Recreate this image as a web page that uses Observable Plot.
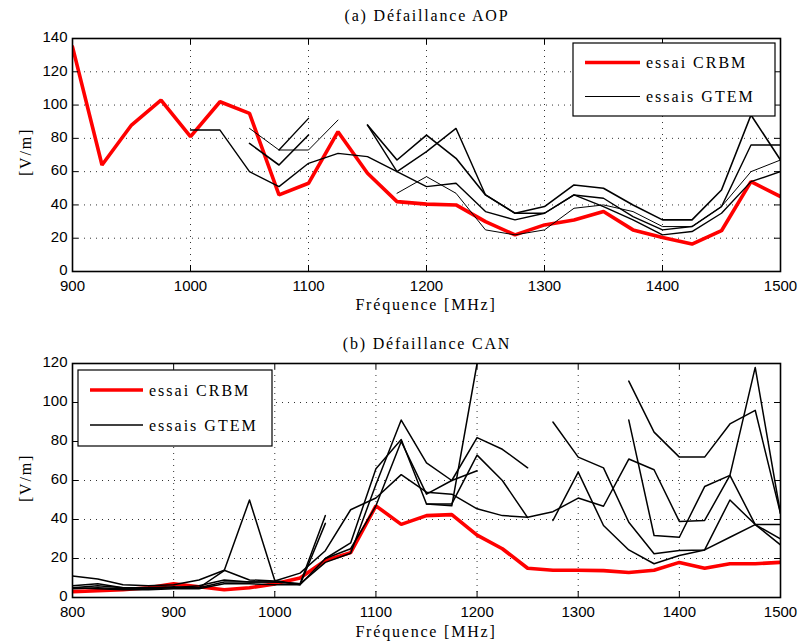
<!DOCTYPE html>
<html>
<head>
<meta charset="utf-8">
<script src="https://cdn.jsdelivr.net/npm/d3@7"></script>
<script src="https://cdn.jsdelivr.net/npm/@observablehq/plot@0.6"></script>
<style>
  body { margin: 0; background: #fff; }
  #wrap { position: relative; width: 800px; height: 644px; overflow: hidden; background: #fff; }
  .chart { position: absolute; left: 0; }
  #overlay { position: absolute; left: 0; top: 0; pointer-events: none; }
  .serif { font-family: "Liberation Serif", "DejaVu Serif", serif; font-size: 16px; fill: #000; }
</style>
</head>
<body>
<div id="wrap">
  <div id="top" class="chart" style="top:0px"></div>
  <div id="bottom" class="chart" style="top:330px"></div>
  <svg id="overlay" width="800" height="644">
    <text class="serif" x="427" y="21" text-anchor="middle" letter-spacing="1.8">(a) Défaillance AOP</text>
    <text class="serif" x="426" y="310" text-anchor="middle" letter-spacing="1.8">Fréquence [MHz]</text>
    <text class="serif" transform="translate(31,152) rotate(-90)" text-anchor="middle" letter-spacing="1.8">[V/m]</text>
    <text class="serif" x="427" y="349" text-anchor="middle" letter-spacing="1.8">(b) Défaillance CAN</text>
    <text class="serif" x="426" y="637" text-anchor="middle" letter-spacing="1.8">Fréquence [MHz]</text>
    <text class="serif" transform="translate(31,478) rotate(-90)" text-anchor="middle" letter-spacing="1.8">[V/m]</text>

    <rect x="573" y="43" width="202" height="73" fill="#fff" stroke="#000" stroke-width="1.2"></rect>
    <line x1="585" x2="640" y1="62.5" y2="62.5" stroke="#ff0000" stroke-width="3.5"></line>
    <text class="serif" x="646" y="68" letter-spacing="2">essai CRBM</text>
    <line x1="585" x2="640" y1="96.5" y2="96.5" stroke="#000" stroke-width="1"></line>
    <text class="serif" x="646" y="102" letter-spacing="2">essais GTEM</text>

    <rect x="78" y="370" width="194" height="76" fill="#fff" stroke="#000" stroke-width="1.2"></rect>
    <line x1="90" x2="143" y1="390" y2="390" stroke="#ff0000" stroke-width="3.5"></line>
    <text class="serif" x="149" y="395.5" letter-spacing="2">essai CRBM</text>
    <line x1="90" x2="143" y1="425" y2="425" stroke="#000" stroke-width="1.5"></line>
    <text class="serif" x="149" y="430.5" letter-spacing="2">essais GTEM</text>
  </svg>
</div>
<script>
// ---------- (a) Défaillance AOP ----------
const freqA = [900,925,950,975,1000,1025,1050,1075,1100,1125,1150,1175,1200,1225,1250,1275,1300,1325,1350,1375,1400,1425,1450,1475,1500];
const crbmA = [135,64,88,103,81,102,95,46,53,84,59,42,40.5,40,30,22,28,31,36,25,20.5,16.5,24.5,54,45];
const gtemA1 = [null,null,null,null,null,null,86,73,73,91,null,null,null,null,null,null,null,null,null,null,null,null,null,null,null];
const gtemA2 = [null,null,null,null,null,null,77,64,82,null,null,null,null,null,null,null,null,null,null,null,null,null,null,null,null];
const gtemA3 = [null,null,null,null,null,null,null,73,92,null,null,null,null,null,null,null,null,null,null,null,null,null,null,null,null];
const gtemA4 = [null,null,null,null,85,85,60,51,65,71,69,60,51,53,36,31,35,46,39,31,22,24,35,54,60];
const gtemA5 = [null,null,null,null,null,null,null,null,null,null,88,67,82,68,46,35,39,52,50,40,31,31,49,94,67];
const gtemA6 = [null,null,null,null,null,null,null,null,null,null,88,60,72,86,46,35,35,46,44,33,25,27,39,76,76];
const gtemA7 = [null,null,null,null,null,null,null,null,null,null,null,47,57,47,25,22,25,38,40,36,27,27,39,60,67];
const xTicksA = [900,1000,1100,1200,1300,1400,1500];
const yTicksA = [0,20,40,60,80,100,120,140];

// ---------- (b) Défaillance CAN ----------
const freqB = [800,825,850,875,900,925,950,975,1000,1025,1050,1075,1100,1125,1150,1175,1200,1225,1250,1275,1300,1325,1350,1375,1400,1425,1450,1475,1500];
const crbmB = [3,3.5,4,5,7,5.5,4,5,7,10,19,23,47,37.5,42,42.5,32,25,15,14,14,13.8,12.8,14,18,15,17.3,17.3,18];
const gtemB1 = [11,9.5,6.5,6,6.5,9,14,9,8.5,12.5,24,45,51,63,54,53,45.5,42,41.2,44,51,46.8,71,65.5,39,39.5,62.6,118,43];
const gtemB2 = [5,6,5,5,5.5,5,13.8,50,8.7,6.5,20,28,66,81,48,47,120,null,null,null,null,null,null,null,null,null,null,null,null];
const gtemB3 = [4.5,5,4.5,4.5,5,6,9,8,8,7,18,22.7,58,91,69,60,65,null,null,null,null,null,null,null,null,null,null,null,null];
const gtemB4 = [6,7,5,5,5,5,8,8,8,7,42,null,null,null,null,null,null,null,null,null,null,null,null,null,null,null,null,null,null];
const gtemB5 = [5,4.5,4,4,4.5,4.5,7,7,6.5,6.5,38,null,null,null,null,null,null,null,null,null,null,null,null,null,null,null,null,null,null];
const gtemB6 = [null,null,null,null,null,null,null,null,null,null,20,25,47,80,53,60,82,76,66.5,null,null,null,null,null,null,null,null,null,null];
const gtemB7 = [null,null,null,null,null,null,null,null,null,null,null,null,null,null,48,48,73,60,41,null,null,null,null,null,null,null,null,null,null];
const gtemB8 = [null,null,null,null,null,null,null,null,null,null,null,null,null,null,null,null,null,null,null,90,72,66.5,38.6,22.4,24.1,24.4,30.9,37.4,37.4];
const gtemB9 = [null,null,null,null,null,null,null,null,null,null,null,null,null,null,null,null,null,null,null,39.5,64.3,36.9,24.4,17.3,21.5,24.4,50,37.4,27];
const gtemB10 = [null,null,null,null,null,null,null,null,null,null,null,null,null,null,null,null,null,null,null,null,null,null,91,31.8,30.9,56.9,62.6,37.4,30];
const gtemB11 = [null,null,null,null,null,null,null,null,null,null,null,null,null,null,null,null,null,null,null,null,null,null,111,84.8,72,72,89,96,43];
const xTicksB = [800,900,1000,1100,1200,1300,1400,1500];
const yTicksB = [0,20,40,60,80,100,120];

function series(freq, vals) {
  return vals.map((v, i) => ({f: freq[i], v: v == null ? NaN : v}));
}

function makeChart(cfg) {
  const mL = 72, mR = 20;
  const pw = 800 - mL - mR;
  const ph = cfg.height - cfg.marginTop - cfg.marginBottom;
  const tick = 6;
  const fmt = d => String(d);
  const marks = [
    Plot.gridX(cfg.xTicks, {stroke: "#000", strokeOpacity: 0.8, strokeWidth: 1, strokeDasharray: "1,5"}),
    Plot.gridY(cfg.yTicks, {stroke: "#000", strokeOpacity: 0.8, strokeWidth: 1, strokeDasharray: "1,5"}),
    Plot.line(series(cfg.freq, cfg.crbm), {x: "f", y: "v", stroke: "#ff0000", strokeWidth: 3.6, clip: true, strokeLinejoin: "miter"}),
    ...cfg.gtem.map(s => Plot.line(series(cfg.freq, s.v), {x: "f", y: "v", stroke: "#000", strokeWidth: s.w, clip: true})),
    Plot.tickX(cfg.xTicks, {x: d => d, stroke: "#000", insetTop: ph - tick}),
    Plot.tickX(cfg.xTicks, {x: d => d, stroke: "#000", insetBottom: ph - tick}),
    Plot.tickY(cfg.yTicks, {y: d => d, stroke: "#000", insetRight: pw - tick}),
    Plot.tickY(cfg.yTicks, {y: d => d, stroke: "#000", insetLeft: pw - tick}),
    Plot.axisX(cfg.xTicks, {tickSize: 0, tickPadding: 9, label: null, fontSize: 15, tickFormat: fmt}),
    Plot.axisY(cfg.yTicks, {tickSize: 0, tickPadding: 5, label: null, fontSize: 15, tickFormat: fmt, dy: -1}),
    Plot.frame({stroke: "#000", strokeWidth: 1.6})
  ];
  return Plot.plot({
    width: 800,
    height: cfg.height,
    marginTop: cfg.marginTop,
    marginBottom: cfg.marginBottom,
    marginLeft: mL,
    marginRight: mR,
    x: {domain: cfg.xDomain, axis: null},
    y: {domain: cfg.yDomain, axis: null},
    style: {fontFamily: "'Liberation Sans', Arial, sans-serif", fontSize: "15px", color: "#000", background: "transparent"},
    marks
  });
}

document.getElementById("top").appendChild(makeChart({
  freq: freqA, crbm: crbmA,
  gtem: [
    {v: gtemA1, w: 1}, {v: gtemA2, w: 1.6}, {v: gtemA3, w: 1.4}, {v: gtemA4, w: 1.4},
    {v: gtemA5, w: 1.6}, {v: gtemA6, w: 1.4}, {v: gtemA7, w: 1}
  ],
  xTicks: xTicksA, yTicks: yTicksA, xDomain: [900, 1500], yDomain: [0, 140],
  height: 318, marginTop: 38, marginBottom: 47
}));

document.getElementById("bottom").appendChild(makeChart({
  freq: freqB, crbm: crbmB,
  gtem: [
    {v: gtemB1, w: 1.5}, {v: gtemB2, w: 1.5}, {v: gtemB3, w: 1.5}, {v: gtemB4, w: 1.5},
    {v: gtemB5, w: 1.5}, {v: gtemB6, w: 1.5}, {v: gtemB7, w: 1.5}, {v: gtemB8, w: 1.5},
    {v: gtemB9, w: 1.5}, {v: gtemB10, w: 1.5}, {v: gtemB11, w: 1.5}
  ],
  xTicks: xTicksB, yTicks: yTicksB, xDomain: [800, 1500], yDomain: [0, 120],
  height: 314, marginTop: 33, marginBottom: 47
}));
</script>
</body>
</html>
